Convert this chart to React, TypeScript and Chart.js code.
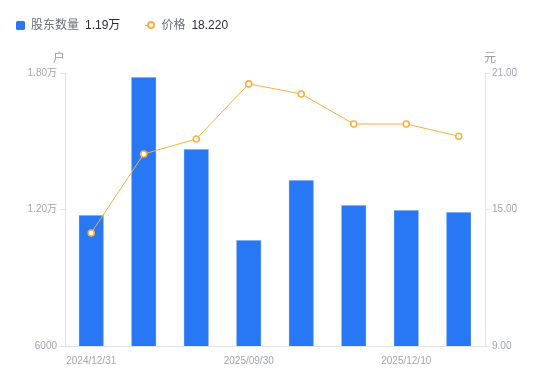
import React, { useEffect, useRef } from "react";
import { Chart, registerables } from "chart.js";

Chart.register(...registerables);

const categories = [
  "2024/12/31",
  "2025/03/31",
  "2025/06/30",
  "2025/09/30",
  "2025/10/31",
  "2025/11/20",
  "2025/12/10",
  "2025/12/20",
];
const holders = [11760, 17820, 14660, 10660, 13300, 12200, 11980, 11890];
const prices = [13.97, 17.44, 18.1, 20.52, 20.08, 18.76, 18.76, 18.22];
const shownLabels = ["2024/12/31", "2025/09/30", "2025/12/10"];

const FONT = '"Liberation Sans", "Noto Sans CJK SC", sans-serif';
const TICK_COLOR = "#a3a5b3";
const AXIS_COLOR = "#e3e4e8";
const BLUE = "#2878f5";
const ORANGE = "#f8b13e";

function fmtHolders(v: number): string {
  if (v >= 10000) return (v / 10000).toFixed(2) + "万";
  return String(v);
}

export default function App() {
  const ref = useRef<HTMLCanvasElement | null>(null);

  useEffect(() => {
    document.body.style.margin = "0";
    const canvas = ref.current;
    if (!canvas) return;
    const chart = new Chart(canvas, {
      type: "bar",
      data: {
        labels: categories,
        datasets: [
          {
            type: "line",
            label: "价格",
            data: prices,
            yAxisID: "y1",
            borderColor: ORANGE,
            borderWidth: 1,
            pointRadius: 3,
            pointBorderWidth: 1.6,
            pointBackgroundColor: "#ffffff",
            pointBorderColor: ORANGE,
            tension: 0,
            order: 0,
          } as any,
          {
            type: "bar",
            label: "股东数量",
            data: holders,
            yAxisID: "y",
            backgroundColor: BLUE,
            borderColor: "#7fb0fb",
            borderWidth: { top: 1, left: 0.5, right: 0.5, bottom: 0 },
            barPercentage: 0.48,
            categoryPercentage: 1,
            order: 1,
          } as any,
        ],
      },
      options: {
        animation: false,
        responsive: false,
        maintainAspectRatio: false,
        layout: { padding: { top: 73, left: 0, right: 0, bottom: 0 } },
        plugins: {
          legend: { display: false },
          tooltip: { enabled: false },
        },
        scales: {
          x: {
            offset: true,
            grid: { display: false },
            border: { display: true, color: AXIS_COLOR },
            ticks: {
              autoSkip: false,
              maxRotation: 0,
              minRotation: 0,
              padding: 1,
              color: TICK_COLOR,
              font: { family: FONT, size: 10 },
              callback: function (this: any, _v: any, i: number) {
                const l = categories[i];
                return shownLabels.includes(l) ? l : "";
              },
            },
            afterFit: (s: any) => {
              s.height = 35;
            },
          },
          y: {
            position: "left",
            min: 6000,
            max: 18000,
            grid: { drawOnChartArea: false, drawTicks: true, tickLength: 5, color: AXIS_COLOR },
            border: { display: true, color: AXIS_COLOR },
            ticks: {
              stepSize: 6000,
              padding: 3,
              color: TICK_COLOR,
              font: { family: FONT, size: 10 },
              callback: (v: any) => fmtHolders(Number(v)),
            },
            afterFit: (s: any) => {
              s.width = 65;
            },
          },
          y1: {
            position: "right",
            min: 9,
            max: 21,
            grid: { drawOnChartArea: false, drawTicks: true, tickLength: 5, color: AXIS_COLOR },
            border: { display: true, color: AXIS_COLOR },
            ticks: {
              stepSize: 6,
              padding: 2,
              color: TICK_COLOR,
              font: { family: FONT, size: 10 },
              callback: (v: any) => Number(v).toFixed(2),
            },
            afterFit: (s: any) => {
              s.width = 65;
            },
          },
        },
      },
    });
    return () => chart.destroy();
  }, []);

  const legendText: React.CSSProperties = { color: "#6b6e7a" };
  const legendVal: React.CSSProperties = { color: "#2b2d33", marginLeft: 6 };

  return (
    <div style={{ position: "fixed", left: 0, top: 0, width: 550, height: 381, background: "#fff" }}>
      <canvas ref={ref} width={550} height={381} style={{ position: "absolute", left: 0, top: 0 }} />
      <div
        style={{
          position: "absolute",
          left: 16,
          top: 15,
          height: 20,
          lineHeight: "20px",
          fontFamily: FONT,
          fontSize: 12,
          whiteSpace: "nowrap",
        }}
      >
        <span style={{ width: 9, height: 9, background: BLUE, borderRadius: 1.5, display: "inline-block", marginRight: 6, verticalAlign: "-1px" }} />
        <span style={legendText}>股东数量</span>
        <span style={legendVal}>1.19万</span>
        <span style={{ display: "inline-block", width: 10, height: 8, position: "relative", marginLeft: 25, marginRight: 6, verticalAlign: "0px" }}>
          <span style={{ position: "absolute", left: 0, top: 3.5, width: 10, height: 1, background: ORANGE }} />
          <span style={{ position: "absolute", left: 1.5, top: 0, width: 4, height: 4, border: `2px solid ${ORANGE}`, borderRadius: "50%", background: "#fff" }} />
        </span>
        <span style={legendText}>价格</span>
        <span style={legendVal}>18.220</span>
      </div>
      <div style={{ position: "absolute", left: 53, top: 48, fontFamily: FONT, fontSize: 12, color: "#9a9cab" }}>户</div>
      <div style={{ position: "absolute", left: 484, top: 48, fontFamily: FONT, fontSize: 12, color: "#9a9cab" }}>元</div>
    </div>
  );
}
